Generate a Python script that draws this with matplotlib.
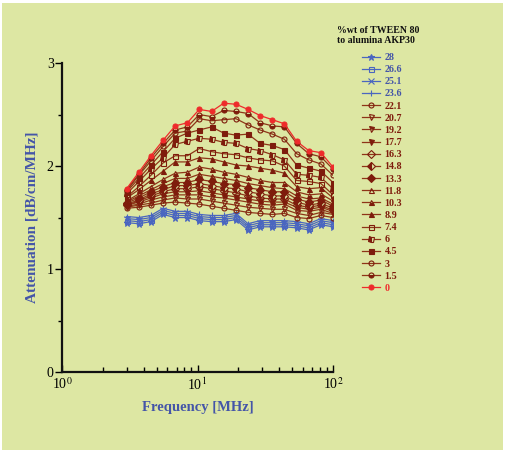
import matplotlib
matplotlib.use("Agg")
import matplotlib.pyplot as plt
from matplotlib.patches import Rectangle
from matplotlib.ticker import FixedLocator, NullFormatter, LogLocator

plt.rcParams['font.family'] = ['Liberation Serif', 'DejaVu Serif']
plt.rcParams['mathtext.fontset'] = 'stix'

freq = [3.0, 3.69, 4.53, 5.57, 6.84, 8.42, 10.3, 12.7, 15.6, 19.2,
        23.6, 29.0, 35.7, 43.8, 53.9, 66.2, 81.4, 100.0]

labels = ['28', '26.6', '25.1', '23.6', '22.1', '20.7', '19.2', '17.7', '16.3',
          '14.8', '13.3', '11.8', '10.3', '8.9', '7.4', '6', '4.5', '3', '1.5', '0']

att_28 = [1.45, 1.44, 1.46, 1.53, 1.50, 1.50, 1.47, 1.46, 1.46, 1.48, 1.38, 1.41, 1.41, 1.41, 1.40, 1.38, 1.43, 1.41]
att_26_6 = [1.47, 1.46, 1.48, 1.55, 1.52, 1.52, 1.49, 1.48, 1.48, 1.50, 1.40, 1.43, 1.43, 1.43, 1.42, 1.40, 1.45, 1.43]
att_25_1 = [1.49, 1.48, 1.50, 1.57, 1.54, 1.54, 1.51, 1.50, 1.50, 1.52, 1.42, 1.45, 1.45, 1.45, 1.44, 1.42, 1.47, 1.45]
att_23_6 = [1.51, 1.50, 1.52, 1.59, 1.56, 1.56, 1.53, 1.52, 1.52, 1.54, 1.44, 1.47, 1.47, 1.47, 1.46, 1.44, 1.49, 1.47]
att_22_1 = [1.59, 1.60, 1.62, 1.64, 1.65, 1.64, 1.63, 1.61, 1.59, 1.57, 1.55, 1.54, 1.53, 1.54, 1.50, 1.49, 1.52, 1.50]
att_20_7 = [1.60, 1.62, 1.64, 1.67, 1.69, 1.68, 1.68, 1.66, 1.64, 1.62, 1.60, 1.59, 1.58, 1.58, 1.54, 1.52, 1.55, 1.53]
att_19_2 = [1.61, 1.63, 1.67, 1.70, 1.72, 1.72, 1.72, 1.70, 1.69, 1.67, 1.65, 1.63, 1.62, 1.63, 1.57, 1.56, 1.58, 1.54]
att_17_7 = [1.62, 1.65, 1.69, 1.73, 1.75, 1.75, 1.76, 1.74, 1.72, 1.70, 1.68, 1.66, 1.65, 1.65, 1.60, 1.58, 1.60, 1.56]
att_16_3 = [1.62, 1.66, 1.71, 1.75, 1.78, 1.78, 1.80, 1.78, 1.76, 1.74, 1.71, 1.69, 1.68, 1.68, 1.62, 1.60, 1.62, 1.57]
att_14_8 = [1.63, 1.67, 1.73, 1.77, 1.81, 1.81, 1.83, 1.81, 1.79, 1.78, 1.75, 1.73, 1.71, 1.71, 1.65, 1.62, 1.64, 1.59]
att_13_3 = [1.64, 1.69, 1.75, 1.80, 1.84, 1.84, 1.87, 1.85, 1.83, 1.82, 1.79, 1.77, 1.75, 1.75, 1.68, 1.65, 1.67, 1.61]
att_11_8 = [1.65, 1.71, 1.77, 1.83, 1.88, 1.88, 1.92, 1.90, 1.88, 1.86, 1.83, 1.81, 1.79, 1.78, 1.71, 1.68, 1.69, 1.63]
att_10_3 = [1.66, 1.73, 1.80, 1.87, 1.93, 1.94, 1.99, 1.97, 1.94, 1.92, 1.89, 1.86, 1.84, 1.84, 1.75, 1.72, 1.73, 1.66]
att_8_9 = [1.69, 1.77, 1.86, 1.95, 2.04, 2.04, 2.08, 2.07, 2.04, 2.01, 2.00, 1.98, 1.96, 1.93, 1.80, 1.78, 1.79, 1.69]
att_7_4 = [1.70, 1.80, 1.91, 2.03, 2.10, 2.10, 2.17, 2.14, 2.12, 2.11, 2.08, 2.06, 2.05, 2.00, 1.86, 1.85, 1.83, 1.72]
att_6 = [1.73, 1.85, 1.97, 2.08, 2.21, 2.24, 2.27, 2.26, 2.23, 2.22, 2.17, 2.15, 2.11, 2.06, 1.92, 1.91, 1.89, 1.78]
att_4_5 = [1.75, 1.88, 2.01, 2.14, 2.27, 2.32, 2.35, 2.38, 2.32, 2.30, 2.31, 2.22, 2.20, 2.16, 2.01, 1.98, 1.95, 1.84]
att_3 = [1.76, 1.91, 2.05, 2.19, 2.32, 2.34, 2.46, 2.44, 2.45, 2.46, 2.40, 2.35, 2.31, 2.26, 2.12, 2.06, 2.02, 1.91]
att_1_5 = [1.77, 1.92, 2.08, 2.22, 2.35, 2.38, 2.50, 2.48, 2.54, 2.53, 2.51, 2.42, 2.39, 2.38, 2.22, 2.12, 2.09, 1.97]
att_0 = [1.78, 1.94, 2.10, 2.25, 2.39, 2.42, 2.55, 2.53, 2.61, 2.60, 2.55, 2.49, 2.45, 2.41, 2.24, 2.15, 2.13, 1.99]

series = [att_28, att_26_6, att_25_1, att_23_6, att_22_1, att_20_7, att_19_2, att_17_7,
          att_16_3, att_14_8, att_13_3, att_11_8, att_10_3, att_8_9, att_7_4, att_6,
          att_4_5, att_3, att_1_5, att_0]

BLUE = '#4a66c0'
BLUE_T = '#4455a8'
BROWN = '#7e1c0c'
BROWN_L = '#8e3518'
RED = '#ee2b2b'

# marker, fill, color
styles = [
    ('*', 'full', BLUE), ('s', 'none', BLUE), ('x', 'full', BLUE), ('+', 'full', BLUE),
    ('o', 'none', BROWN), ('v', 'none', BROWN), ('v', 'top', BROWN), ('v', 'full', BROWN),
    ('D', 'none', BROWN), ('D', 'left', BROWN), ('D', 'full', BROWN), ('^', 'none', BROWN),
    ('^', 'bottom', BROWN), ('^', 'full', BROWN), ('s', 'none', BROWN), ('s', 'left', BROWN),
    ('s', 'full', BROWN), ('o', 'none', BROWN), ('o', 'bottom', BROWN), ('o', 'full', RED),
]

BG = '#dde7a3'
fig = plt.figure(figsize=(5.07, 4.53), dpi=100, facecolor='white')
fig.patches.append(Rectangle((0.004, 0.006), 0.988, 0.988, transform=fig.transFigure,
                             facecolor=BG, edgecolor='none', zorder=-10))

ax = fig.add_axes([0.1223, 0.1788, 0.5345, 0.682])
ax.set_facecolor('none')

handles = []
for lab, ys, (mk, fs, col) in zip(labels, series, styles):
    if col == BLUE:
        lc = BLUE
    elif col == RED:
        lc = RED
    else:
        lc = BROWN_L
    ms = 4.5 if mk in ('*', '+', 'x') else 3.6
    h, = ax.plot(freq, ys, color=lc, lw=0.9, marker=mk, fillstyle=fs, ms=ms,
                 markeredgecolor=col, markerfacecolor=col, markerfacecoloralt=BG,
                 markeredgewidth=0.8, label=lab)
    handles.append(h)

ax.set_xscale('log')
ax.set_xlim(1, 100)
ax.set_ylim(0, 3)

for s in ('top', 'right'):
    ax.spines[s].set_visible(False)
for s in ('left', 'bottom'):
    ax.spines[s].set_linewidth(1.6)
    ax.spines[s].set_color('#111111')

ax.set_yticks([0, 1, 2, 3])
ax.set_yticklabels(['0', '1', '2', '3'])
ax.yaxis.set_minor_locator(FixedLocator([0.5, 1.5, 2.5]))
ax.tick_params(axis='y', which='major', direction='out', length=5, width=1, labelsize=10, pad=1)
ax.tick_params(axis='y', which='minor', direction='out', length=3, width=1)

ax.xaxis.set_major_locator(FixedLocator([1, 10, 100]))
ax.set_xticklabels(['10$^0$', '10$^1$', '10$^2$'])
ax.xaxis.set_minor_locator(LogLocator(base=10, subs=[2, 3, 4, 5, 6, 7, 8, 9]))
ax.xaxis.set_minor_formatter(NullFormatter())
ax.tick_params(axis='x', which='major', direction='in', length=5, width=1, labelsize=10, pad=3)
ax.tick_params(axis='x', which='minor', direction='in', length=3.5, width=1)

ax.set_xlabel('Frequency [MHz]', fontsize=10.5, fontweight='bold', color=BLUE_T, labelpad=6)
ax.set_ylabel('Attenuation [dB/cm/MHz]', fontsize=11, fontweight='bold', color=BLUE_T, labelpad=6)

fig.text(337 / 507, 1 - 26 / 453, '%wt of TWEEN 80\nto alumina AKP30', ha='left', va='top',
         fontsize=7.1, fontweight='bold', color='#111111', linespacing=1.2)

leg = fig.legend(handles=handles, loc='upper left', bbox_to_anchor=(362 / 507, 1 - 53 / 453),
                 frameon=False, fontsize=7.2,
                 handlelength=1.75, handletextpad=0.5, labelspacing=0.315, borderpad=0,
                 borderaxespad=0)
for t, (mk, fs, col) in zip(leg.get_texts(), styles):
    t.set_fontweight('bold')
    t.set_color(BLUE_T if col == BLUE else (RED if col == RED else BROWN))

fig.savefig('out.png', dpi=100, facecolor='white')
